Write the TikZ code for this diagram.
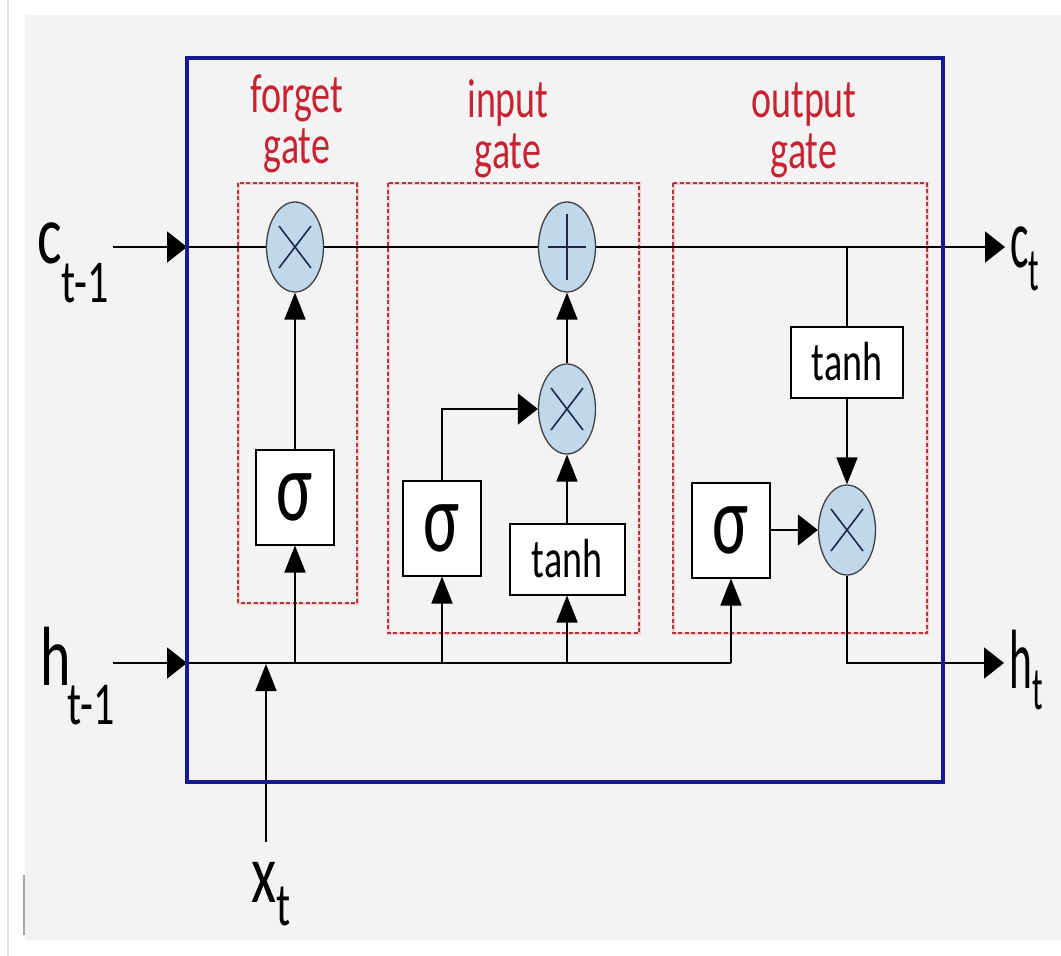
\documentclass[tikz,border=0pt]{standalone}
\usepackage{fontspec}
\setmainfont{Carlito}
\usetikzlibrary{arrows.meta,shapes.geometric}
\definecolor{bluebox}{RGB}{25,25,145}
\definecolor{gatered}{RGB}{200,35,50}
\definecolor{dashred}{RGB}{175,55,65}
\definecolor{dashglow}{RGB}{250,205,205}
\definecolor{opfill}{RGB}{192,215,236}
\definecolor{opline}{RGB}{30,40,70}
\definecolor{panel}{RGB}{243,243,243}
\newcommand{\tallify}[1]{\scalebox{1}[1.45]{#1}}
\newcommand{\narrowtall}[1]{\scalebox{0.75}[1.45]{#1}}
\begin{document}
\begin{tikzpicture}[x=1pt,y=-1pt,
  conn/.style={line width=1.8pt, draw=black},
  harr/.style={conn, -{Triangle[length=20pt,width=31pt]}},
  varr/.style={conn, -{Triangle[length=27pt,width=21pt]}},
  opbase/.style={ellipse, draw=black!75, line width=1.3pt, fill=opfill,
    minimum width=57pt, minimum height=90pt, inner sep=0pt},
  opx/.style={opbase, path picture={
    \draw[line width=1.6pt, opline]
      ([shift={(-16,-21)}]path picture bounding box.center) -- ([shift={(16,21)}]path picture bounding box.center)
      ([shift={(-16,21)}]path picture bounding box.center) -- ([shift={(16,-21)}]path picture bounding box.center);}},
  opplus/.style={opbase, path picture={
    \draw[line width=1.6pt, opline]
      ([shift={(0,-33)}]path picture bounding box.center) -- ([shift={(0,33)}]path picture bounding box.center)
      ([shift={(-19,0)}]path picture bounding box.center) -- ([shift={(19,0)}]path picture bounding box.center);}},
  sigbox/.style={draw=black, line width=2pt, fill=white, minimum width=78pt, minimum height=95pt,
    inner sep=0pt, font=\fontsize{68}{68}\selectfont},
  tanhbox/.style={draw=black, line width=2pt, fill=white, minimum height=71pt,
    inner sep=0pt, font=\fontsize{38}{38}\selectfont},
  gatebox/.style={draw=dashred, line width=1.2pt, dash pattern=on 4pt off 2.5pt},
  glow/.style={draw=dashglow, line width=3pt},
  gatelab/.style={text=gatered, inner sep=0pt, anchor=base, font=\fontsize{38}{38}\selectfont},
  biglab/.style={inner sep=0pt, anchor=base west, font=\fontsize{58}{58}\selectfont},
]
\useasboundingbox (0,0) rectangle (1061,956);
% background
\fill[white] (0,0) rectangle (1061,956);
\fill[panel] (25,15) rectangle (1061,940);
\draw[black!12, line width=2pt] (8,0) -- (8,956);
\draw[black!35, line width=1.5pt] (24,875) -- (24,935);

% gate regions
\draw[glow] (238,183) rectangle (357,603);
\draw[gatebox] (238,183) rectangle (357,603);
\draw[glow] (388,183) rectangle (639,633);
\draw[gatebox] (388,183) rectangle (639,633);
\draw[glow] (673,183) rectangle (927,633);
\draw[gatebox] (673,183) rectangle (927,633);

% gate labels
\node[gatelab] (lforget1) at (297,112) {\tallify{forget}};
\node[gatelab] (lforget2) at (297,163) {\tallify{gate}};
\node[gatelab] (linput1) at (508,117) {\tallify{input}};
\node[gatelab] (linput2) at (508,168) {\tallify{gate}};
\node[gatelab] (loutput1) at (804,117) {\tallify{output}};
\node[gatelab] (loutput2) at (804,168) {\tallify{gate}};

% operators and boxes
\node[opx] (fx) at (295,247) {};
\node[opplus] (plus) at (567,247) {};
\node[opx] (ix) at (567,409) {};
\node[opx] (ox) at (847,530) {};
\node[sigbox] (fsig) at (295,497) {\tallify{σ}};
\node[sigbox] (isig) at (442,528) {\tallify{σ}};
\node[sigbox] (osig) at (731,530) {\tallify{σ}};
\node[tanhbox, minimum width=115pt] (itanh) at (567,559) {\tallify{tanh}};
\node[tanhbox, minimum width=112pt] (otanh) at (847,362) {\tallify{tanh}};

% coordinates
\coordinate (cin) at (113,247);
\coordinate (cbl) at (187,247);
\coordinate (obr) at (847,247);
\coordinate (cout) at (1005,247);
\coordinate (hin) at (113,663);
\coordinate (hbl) at (187,663);
\coordinate (hf) at (295,663);
\coordinate (hi) at (442,663);
\coordinate (ht) at (567,663);
\coordinate (hend) at (731,663);
\coordinate (hout) at (1004,663);
\coordinate (xin) at (266,842);
\coordinate (xh) at (266,664);

% cell state line
\draw[harr] (cin) -- (cbl);
\draw[conn] (cbl) -- (fx);
\draw[conn] (fx) -- (plus);
\draw[harr] (plus) -- (cout);
\draw[conn] (obr) -- (otanh);
\draw[varr] (otanh) -- (ox);

% hidden state line
\draw[harr] (hin) -- (hbl);
\draw[conn] (hbl) -- (hend);
\draw[varr] (hf) -- (fsig);
\draw[varr] (hi) -- (isig);
\draw[varr] (ht) -- (itanh);
\draw[varr] (hend) -- (osig);
\draw[varr] (xin) -- (xh);

% gates internal
\draw[varr] (fsig) -- (fx);
\draw[harr] (isig.north) |- (ix.west);
\draw[varr] (itanh) -- (ix);
\draw[varr] (ix) -- (plus);
\draw[harr] (osig) -- (ox);
\draw[harr] (ox.south) |- (hout);

% cell boundary
\draw[bluebox, line width=4pt] (187,58) rectangle (943,782);

% outer labels
\node[biglab] (lcin) at (37,263) {\tallify{c\raisebox{-27.5pt}{\fontsize{42}{42}\selectfont t-1}}};
\node[biglab] (lhin) at (40,685) {\tallify{h\kern-3pt\raisebox{-27.5pt}{\fontsize{42}{42}\selectfont t-1}}};
\node[biglab] (lxin) at (251,902) {\tallify{x\raisebox{-16pt}{\fontsize{42}{42}\selectfont t}}};
\node[biglab] (lcout) at (1010,267) {\narrowtall{c\raisebox{-16pt}{\fontsize{42}{42}\selectfont t}}};
\node[biglab] (lhout) at (1009,688) {\narrowtall{h\raisebox{-15pt}{\fontsize{42}{42}\selectfont t}}};
\end{tikzpicture}
\end{document}
